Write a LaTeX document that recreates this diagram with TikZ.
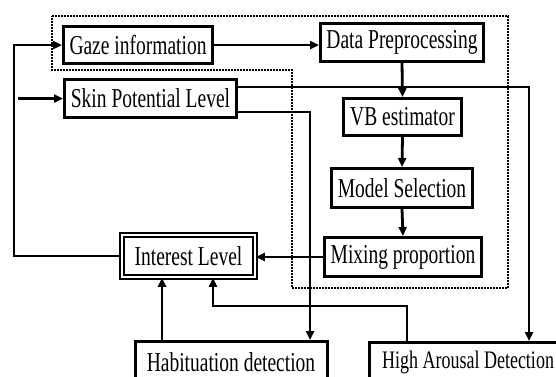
\documentclass[tikz,border=0pt]{standalone}
\usepackage{fontspec}
\setmainfont{Liberation Serif}
\usepackage{graphicx}
\usepackage{tikz}
\usetikzlibrary{arrows.meta,calc}

\newcommand{\tallt}[1]{\scalebox{1}[1.4]{#1}}

\begin{document}
\begin{tikzpicture}[x=1pt, y=-1pt,
    block/.style={draw, line width=3pt, inner sep=0pt, align=center, font=\fontsize{19.5}{21}\selectfont},
    frame/.style={draw, line width=2pt, dash pattern=on 1.6pt off 1.4pt},
    arr/.style={line width=2.8pt, -{Triangle[length=9pt, width=8pt]}},
    link/.style={line width=2.8pt}]
  \clip (0,0) rectangle (556,376);

  % --- dotted region round the estimation part ---
  \draw[frame] (52,16) -- (508,16) -- (508,288) -- (292,288) -- (292,70) -- (52,70) -- cycle;

  % --- blocks ---
  \node[block, minimum width=149pt, minimum height=37pt] (gaze)  at (138,45)    {\tallt{Gaze information}};
  \node[block, minimum width=172pt, minimum height=38pt] (skin)  at (150.5,98.5) {\tallt{Skin Potential Level}};
  \node[block, minimum width=163pt, minimum height=38pt] (data)  at (402,42.5)  {\tallt{Data Preprocessing}};
  \node[block, minimum width=118pt, minimum height=37pt] (vb)    at (402.5,117) {\tallt{VB estimator}};
  \node[block, minimum width=141pt, minimum height=39pt] (model) at (402,188)   {\tallt{Model Selection}};
  \node[block, minimum width=157pt, minimum height=39pt] (mix)   at (403,257)   {\tallt{Mixing proportion}};
  \node[block, double, line width=1.8pt, double distance=2pt,
        minimum width=133pt, minimum height=42pt] (interest) at (188.5,256) {\tallt{Interest Level}};
  \node[block, minimum width=192pt, minimum height=41pt] (habit) at (231,362)   {\tallt{Habituation detection}};
  \node[block, minimum width=197pt, minimum height=39pt,
        font=\fontsize{18}{20}\selectfont] (arousal) at (468,362) {\tallt{High Arousal Detection}};

  \coordinate (skinin) at (18,98.5);
  \coordinate (back)   at (14,256);
  \coordinate (fb)     at (213,306);

  % --- main chain ---
  \draw[arr] (gaze.east) -- (gaze.east -| data.west);
  \draw[arr] (data) ++(0,20) -- (vb.north);
  \draw[arr] (vb.south) -- (model.north);
  \draw[arr] (model.south) -- (mix.north);
  \draw[arr] (mix.west) -- (mix.west -| interest.east);

  % --- inputs and feedback ---
  \draw[arr] (skinin) -- (skin.west);
  \draw[arr] (interest.west) -- (back) |- (gaze.west);

  % --- skin potential to the detectors ---
  \draw[arr] ([yshift=11.5pt]skin.east) -| ([xshift=61pt]arousal.north);
  \draw[arr] ([yshift=-13.5pt]skin.east) -| ([xshift=79pt]habit.north);

  % --- detectors back to interest level ---
  \draw[arr] ([xshift=-61pt]arousal.north) |- (fb) -- (fb |- interest.south);
  \draw[arr] ([xshift=-26.5pt]interest.south |- habit.north) -- ([xshift=-26.5pt]interest.south);
\end{tikzpicture}
\end{document}
